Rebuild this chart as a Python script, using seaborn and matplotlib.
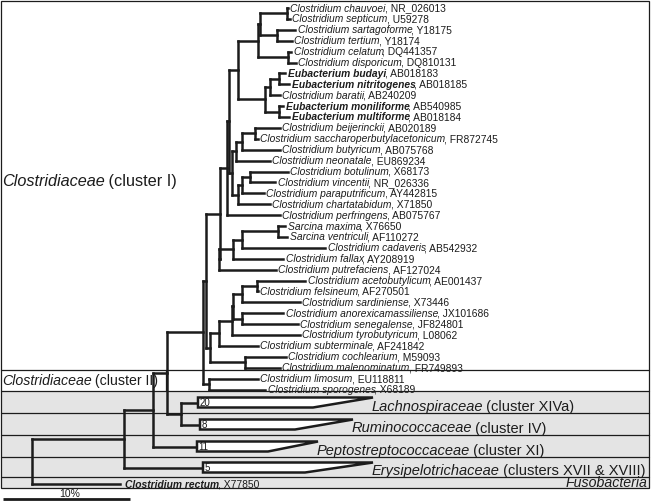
import matplotlib
matplotlib.use("Agg")
import matplotlib.pyplot as plt
import seaborn as sns
from matplotlib.patches import Polygon, Rectangle

# ---------------- data ----------------
species = [
    "Clostridium chauvoei", "Clostridium septicum", "Clostridium sartagoforme",
    "Clostridium tertium", "Clostridium celatum", "Clostridium disporicum",
    "Eubacterium budayi", "Eubacterium nitritogenes", "Clostridium baratii",
    "Eubacterium moniliforme", "Eubacterium multiforme", "Clostridium beijerinckii",
    "Clostridium saccharoperbutylacetonicum", "Clostridium butyricum",
    "Clostridium neonatale", "Clostridium botulinum", "Clostridium vincentii",
    "Clostridium paraputrificum", "Clostridium chartatabidum", "Clostridium perfringens",
    "Sarcina maxima", "Sarcina ventriculi", "Clostridium cadaveris", "Clostridium fallax",
    "Clostridium putrefaciens", "Clostridium acetobutylicum", "Clostridium felsineum",
    "Clostridium sardiniense", "Clostridium anorexicamassiliense",
    "Clostridium senegalense", "Clostridium tyrobutyricum", "Clostridium subterminale",
    "Clostridium cochlearium", "Clostridium malenominatum", "Clostridium limosum",
    "Clostridium sporogenes",
]
accessions = [
    "NR_026013", "U59278", "Y18175", "Y18174", "DQ441357", "DQ810131", "AB018183",
    "AB018185", "AB240209", "AB540985", "AB018184", "AB020189", "FR872745", "AB075768",
    "EU869234", "X68173", "NR_026336", "AY442815", "X71850", "AB075767", "X76650",
    "AF110272", "AB542932", "AY208919", "AF127024", "AE001437", "AF270501", "X73446",
    "JX101686", "JF824801", "L08062", "AF241842", "M59093", "FR749893", "EU118811",
    "X68189",
]
bold_taxa = ["Eubacterium budayi", "Eubacterium nitritogenes",
             "Eubacterium moniliforme", "Eubacterium multiforme"]
# tip depth (horizontal distance from left edge, px units of the tree)
tip_depth = [288, 290, 295, 292, 291, 296, 285, 289, 280, 283, 289, 280, 258, 280,
             270, 288, 275, 264, 270, 280, 285, 287, 325, 283, 276, 305, 258, 300,
             283, 298, 300, 258, 286, 280, 258, 265]

# internal nodes: name -> (depth, children)
nodes = {
    "g1a": (287, [0, 1]), "g1b": (277, [2, 3]), "g1c": (260, ["g1a", "g1b"]),
    "g1d": (288, [4, 5]), "g1e": (258, ["g1c", "g1d"]),
    "eu1": (279, [6, 7]), "eu2": (270, ["eu1", 8]), "eu3": (279, [9, 10]),
    "eu4": (265, ["eu2", "eu3"]), "G1": (238, ["g1e", "eu4"]),
    "g2a": (255, [11, 12]), "g2b": (242, ["g2a", 13]), "g2c": (236, ["g2b", 14]),
    "g2d": (250, [15, 16]), "g2e": (242, ["g2d", 17]), "g2f": (238, ["g2e", 18]),
    "G2": (232, ["g2c", "g2f"]), "P": (229, ["G1", "G2"]), "Q": (227, ["P", 19]),
    "g3a": (278, [20, 21]), "g3b": (242, ["g3a", 22]), "g3c": (233, ["g3b", 23]),
    "G3": (219, ["g3c", 24]), "R": (220, ["Q", "G3"]),
    "g4a": (257, [25, 26]), "g4b": (242, ["g4a", 27]), "g4c": (242, [28, 29]),
    "g4d": (233, ["g4b", "g4c"]), "g4e": (232, ["g4d", 30]), "g4f": (219, ["g4e", 31]),
    "g4g": (245, [32, 33]), "G4": (210, ["g4f", "g4g"]),
    "C1": (206, ["R", "G4"]), "LS": (209, [34, 35]), "C12": (203, ["C1", "LS"]),
    "LR": (181, ["T0", "T1"]), "N166": (167, ["C12", "LR"]),
    "N153": (153, ["N166", "T2"]), "N124": (124, ["N153", "T3"]),
    "root": (32, ["N124", "RECT"]),
}

# collapsed clades
clade_names = ["Lachnospiraceae", "Ruminococcaceae", "Peptostreptococcaceae",
               "Erysipelotrichaceae"]
clade_suffix = [" (cluster XIVa)", " (cluster IV)", " (cluster XI)",
                " (clusters XVII & XVIII)"]
clade_counts = [20, 8, 11, 5]
clade_base = [198, 200, 197, 203]
clade_max = [373, 353, 318, 373]
clade_min = [313, 295, 268, 305]

outgroup_species = "Clostridium rectum"
outgroup_acc = "X77850"
outgroup_depth = 120

# ---------------- style ----------------
sns.set_theme(style="white")
plt.rcParams["font.family"] = ["Liberation Sans", "DejaVu Sans"]

W, H = 651, 504
fig = plt.figure(figsize=(W / 100, H / 100), dpi=100)
ax = fig.add_axes([0, 0, 1, 1])
ax.set_xlim(0, W)
ax.set_ylim(H, 0)
ax.axis("off")

LC = "#1c1c1c"
GRAY = "#e4e4e4"
TREE_LW = 1.8
BOX_LW = 0.9

# layout
leaf_top, leaf_step = 8.0, 10.9
band_edges = [391, 413, 435, 457, 477, 488]
right_edge = 649

# background boxes
ax.add_patch(Rectangle((0.5, band_edges[0]), right_edge - 0.5, band_edges[-1] - band_edges[0],
                       facecolor=GRAY, edgecolor="none", zorder=0))
ax.add_patch(Rectangle((0.5, 0.5), right_edge - 0.5, band_edges[-1] - 0.5,
                       facecolor="none", edgecolor=LC, lw=BOX_LW, zorder=1))
for yy in [370] + band_edges[:-1]:
    ax.plot([0.5, right_edge], [yy, yy], color=LC, lw=BOX_LW, zorder=1)
ax.plot([166, 166], [370, band_edges[0]], color=LC, lw=BOX_LW, zorder=1)

band_centers = [(band_edges[i] + band_edges[i + 1]) / 2 for i in range(len(band_edges) - 1)]


def node_y(key):
    if isinstance(key, int):
        return leaf_top + key * leaf_step
    if key.startswith("T"):
        return band_centers[int(key[1:])] + 0.5
    if key == "RECT":
        return band_centers[4] + 1.5
    ys = [node_y(c) for c in nodes[key][1]]
    return (min(ys) + max(ys)) / 2


def node_x(key):
    if isinstance(key, int):
        return tip_depth[key]
    if key.startswith("T"):
        return clade_base[int(key[1:])]
    if key == "RECT":
        return outgroup_depth
    return nodes[key][0]


def seg(x0, x1, y0, y1):
    ax.plot([x0, x1], [y0, y1], color=LC, lw=TREE_LW, solid_capstyle="projecting", zorder=3)


for name, (x, children) in nodes.items():
    ys = [node_y(c) for c in children]
    seg(x, x, min(ys), max(ys))
    for c, yc in zip(children, ys):
        seg(x, node_x(c), yc, yc)

# collapsed triangles
half = 5
for i in range(len(clade_counts)):
    yc = node_y(f"T{i}")
    poly = Polygon([(clade_base[i], yc - half), (clade_max[i], yc - half),
                    (clade_min[i], yc + half), (clade_base[i], yc + half)],
                   closed=True, facecolor="white", edgecolor=LC, lw=TREE_LW, zorder=4,
                   joinstyle="miter")
    ax.add_patch(poly)
    ax.text(clade_base[i] + 1.5, yc + 0.5, str(clade_counts[i]), fontsize=7,
            va="center", ha="left", color=LC, zorder=5)

renderer = fig.canvas.get_renderer()


def two_part(x, y, first, second, size, first_style="italic", first_weight="normal",
             va="center"):
    t = ax.text(x, y, first, fontsize=size, fontstyle=first_style, fontweight=first_weight,
                va=va, ha="left", color=LC, zorder=5)
    bb = t.get_window_extent(renderer)
    ax.text(x + bb.width - 1.2, y, second, fontsize=size, va=va, ha="left", color=LC,
            zorder=5)


# leaf labels
LEAF_FS = 7.4
for i, (sp, acc) in enumerate(zip(species, accessions)):
    w = "bold" if sp in bold_taxa else "normal"
    two_part(tip_depth[i] + 2.5, node_y(i) + 0.5, sp, ", " + acc, LEAF_FS, first_weight=w)

two_part(outgroup_depth + 5, node_y("RECT") + 0.5, outgroup_species, ", " + outgroup_acc,
         LEAF_FS, first_weight="bold")

# cluster labels
two_part(2, 181.5, "Clostridiaceae", " (cluster I)", 11.7)
two_part(2, 381, "Clostridiaceae", " (cluster II)", 10.2)
for i in range(len(clade_names)):
    two_part(clade_max[i] - 1, band_edges[i + 1] - 2.5, clade_names[i], clade_suffix[i],
             10.5, va="baseline")
ax.text(right_edge - 2, band_edges[-1] - 0.6, "Fusobacteria", fontsize=10.2,
        fontstyle="italic", ha="right", va="baseline", color=LC, zorder=5)

# scale bar (10% divergence)
scale_px = 127
ax.plot([3, 3 + scale_px], [499, 499], color=LC, lw=2.0, solid_capstyle="butt")
ax.text(3 + scale_px / 2 + 3, 494, "10%", fontsize=7.5, ha="center", va="center", color=LC)

fig.savefig("out.png", dpi=100)
